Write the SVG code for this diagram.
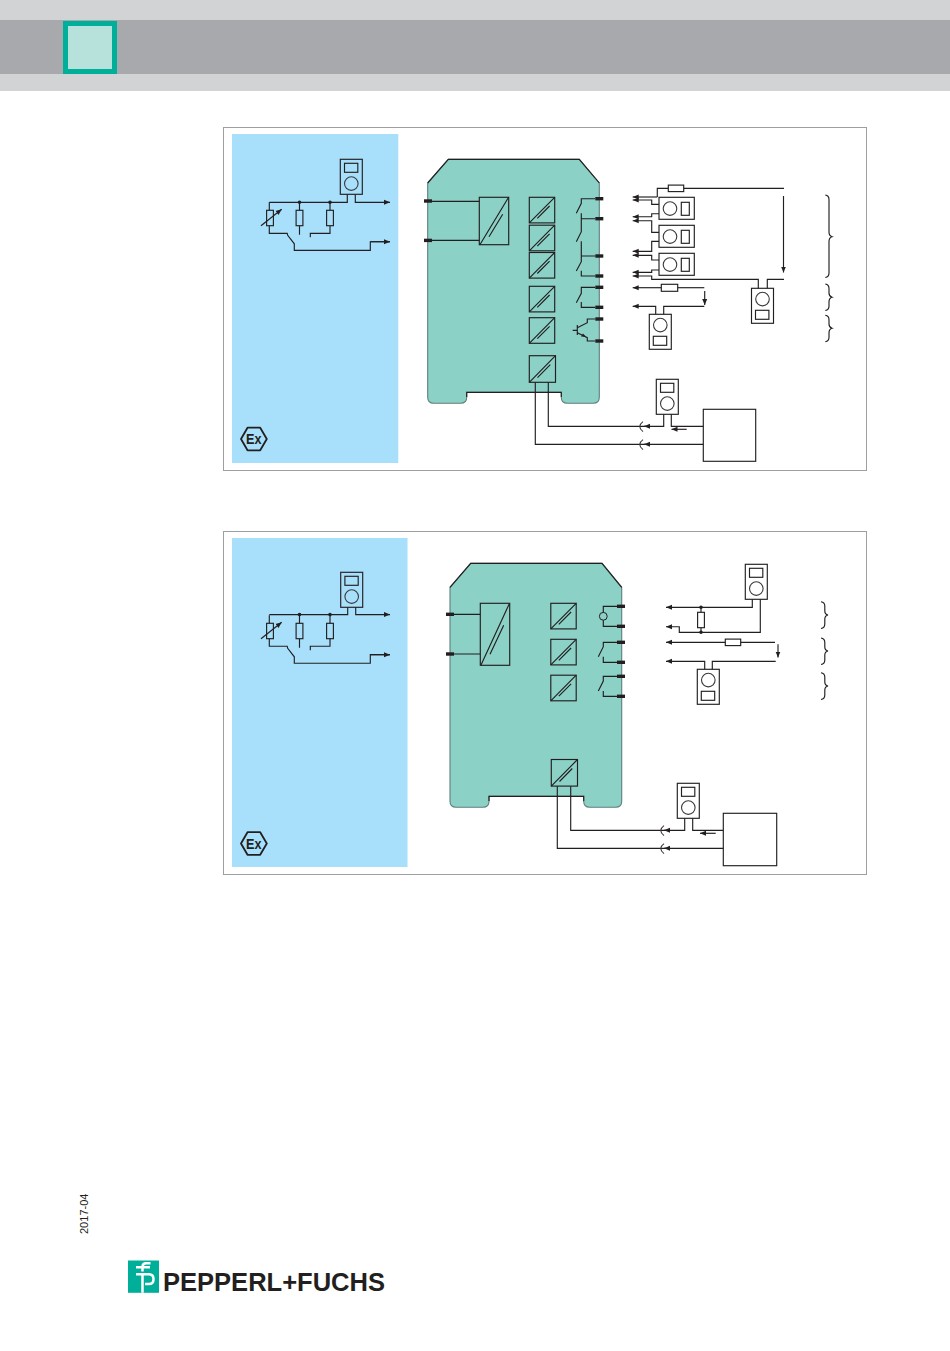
<svg xmlns="http://www.w3.org/2000/svg" xmlns:xlink="http://www.w3.org/1999/xlink" width="950" height="1351" viewBox="0 0 950 1351">
<style>
.c{fill:none;stroke:#3a3a3c;stroke-width:1.1}
.a{fill:none;stroke:#231f20;stroke-width:1.15;marker-end:url(#ah)}
.k{fill:none;stroke:#231f20;stroke-width:1.15}
.body{fill:#8bd1c6;stroke:#5f7f7b;stroke-width:1.1}
.panel{fill:#fff;stroke:#9d9fa2;stroke-width:1}
.blue{fill:#a8e0fb}
.t{fill:#231f20}
.ex{fill:none;stroke:#231f20;stroke-width:1.8;stroke-linejoin:round}
.ext{font-family:"Liberation Sans",Arial,sans-serif;font-weight:700;fill:#231f20;font-size:14px}
</style>
<defs>
<marker id="ah" markerUnits="userSpaceOnUse" markerWidth="7" markerHeight="6" refX="6" refY="3" orient="auto"><path d="M0,0.5 L6,3 L0,5.5 Z" fill="#231f20"/></marker>
<g id="m-v"><rect class="k" x="0" y="0" width="22" height="35"/><rect class="k" x="4.2" y="4" width="13.3" height="9"/><circle class="c" cx="11" cy="24.3" r="6.8"/></g>
<g id="m-f"><rect class="k" x="0" y="0" width="22" height="35"/><rect class="k" x="4" y="22" width="13.4" height="9"/><circle class="c" cx="11" cy="10.8" r="6.8"/></g>
<g id="m-h"><rect class="k" x="0" y="0" width="35.3" height="22"/><rect class="k" x="22.3" y="5" width="8" height="13"/><circle class="c" cx="11" cy="11.3" r="6.8"/></g>
<g id="iso"><rect class="k" x="0" y="0" width="25.4" height="25.6"/><path class="k" d="M0,25.6 L25.4,0 M8,21 L20.3,8.7"/></g>
<g id="iso2"><rect class="k" x="0" y="0" width="26.2" height="26.6"/><path class="k" d="M0,26.6 L26.2,0 M8.2,22 L21,9"/></g>
<g id="exm"><path class="ex" d="M241,0 L247.5,-11.3 L260.2,-11.3 L266.8,0 L260.2,11.3 L247.5,11.3 Z"/><text class="ext" x="246" y="5.2" textLength="15.5" lengthAdjust="spacingAndGlyphs">Ex</text></g>
<g id="sens"><path class="k" d="M269.3,0 L269.3,8 M299.5,0 L299.5,8 M299.5,23.4 L299.5,32.5 M330,0 L330,8 M330,23.4 L330,31 L310.3,31 L310.3,35 M269.3,23.5 L269.3,31 L287.2,31 L287.7,33 L294.3,41.5 L294.3,48 L370.3,48 L370.3,39.4 L390,39.4"/></g>
<g id="r-v"><rect class="k" x="-3.4" y="0" width="6.8" height="15.4"/></g>
<g id="r-h"><rect class="k" x="0" y="0" width="15.4" height="6.5"/></g>
</defs>

<g id="header">
<rect x="0" y="0" width="950" height="91" fill="#d1d3d4"/>
<rect x="0" y="20" width="950" height="54" fill="#a7a9ac"/>
<rect x="63" y="21" width="54" height="53" fill="#00af9a"/>
<rect x="68" y="26" width="44" height="43" fill="#b7e2dc"/>
</g>

<g id="panel-1">
<rect class="panel" x="223.5" y="127.5" width="643" height="343"/>
<rect class="blue" x="232" y="134" width="166.3" height="329"/>
</g>
<g id="panel-2">
<rect class="panel" x="223.5" y="531.5" width="643" height="343"/>
<rect class="blue" x="232" y="538" width="175.5" height="329"/>
</g>

<g id="device-1-body">
<path class="body" d="M448.3,159.3 L579.3,159.3 L599.3,183 L599.3,397.3 Q599.3,403.3 593.3,403.3 L567.3,403.3 Q561.3,403.3 561.3,397.3 L561.3,392.3 L466.7,392.3 L466.7,397.3 Q466.7,403.3 460.7,403.3 L433.7,403.3 Q427.7,403.3 427.7,397.3 L427.7,183 Z"/>
<path class="k" d="M427.7,183 L448.3,159.3 L579.3,159.3 L599.3,183 M466.7,397 L466.7,392.3 L561.3,392.3 L561.3,397"/>
</g>
<g id="device-2-body">
<path class="body" d="M470.7,563.3 L602,563.3 L621.7,587.3 L621.7,801.3 Q621.7,807.3 615.7,807.3 L589.7,807.3 Q583.7,807.3 583.7,801.3 L583.7,796.3 L489,796.3 L489,801.3 Q489,807.3 483,807.3 L456,807.3 Q450,807.3 450,801.3 L450,587.3 Z"/>
<path class="k" d="M450,587.3 L470.7,563.3 L602,563.3 L621.7,587.3 M489,801 L489,796.3 L583.7,796.3 L583.7,801"/>
</g>

<g id="connectors">
<path class="k" d="M269.3,202.3 L347.3,202.3 L347.3,194.3"/>
<path class="a" d="M355.3,194.3 L355.3,202.3 L390,202.3"/>
<use href="#sens" xlink:href="#sens" transform="translate(0,202.3)"/>
<path class="a" d="M370.3,241.7 L390,241.7"/>
<path class="a" d="M261,225.7 L281.7,209.3"/>
<path class="k" d="M269.3,614.6 L347.7,614.6 L347.7,607.3"/>
<path class="a" d="M355.7,607.3 L355.7,614.6 L390,614.6"/>
<use href="#sens" xlink:href="#sens" transform="translate(0,615.3)"/>
<path class="a" d="M370.3,654.7 L390,654.7"/>
<path class="a" d="M261,638.7 L281.7,622.3"/>

<path class="k" d="M432,201.3 L479.3,201.3 M432,240.3 L479.3,240.3"/>
<path class="k" d="M595,198.7 L581.3,198.7 L581.3,203.3 L576.3,213.3 M581.3,213.3 L581.3,231.7 L576.3,241.7 M581.3,218.7 L595,218.7 M581.3,241.3 L581.3,261.7 L576.3,271 M581.3,256 L595,256 M581.3,270.7 L581.3,276 L595,276 M595,287.3 L581.3,287.3 L581.3,293.3 L576.3,302.7 M581.3,302 L581.3,307.3 L595,307.3"/>
<path class="k" d="M572.7,330.3 L577.3,330.3 M577.3,325 L577.3,335 M577.3,327.7 L587.3,322.7 L587.3,319 L595,319 M577.3,332.7 L587.3,337.7 L587.3,341 L595,341"/>
<path d="M581,336.6 L586,336.8 L583,333.6 Z" fill="#231f20"/>
<path class="k" d="M668.3,188.3 L657.3,188.3 L657.3,197"/>
<path class="a" d="M657.3,197 L632.7,197"/>
<path class="a" d="M659,204.3 L651.7,204.3 L651.7,200 L632.7,200"/>
<path class="k" d="M683.7,188.3 L784,188.3"/>
<path class="a" d="M783.5,196 L783.5,272.5"/>
<path class="a" d="M659,213.7 L651.7,213.7 L651.7,216.7 L632.7,216.7"/>
<path class="a" d="M659,232.3 L651.7,232.3 L651.7,220.7 L632.7,220.7"/>
<path class="a" d="M659,241.3 L651.7,241.3 L651.7,251.3 L632.7,251.3"/>
<path class="a" d="M659,260 L651.7,260 L651.7,255.3 L632.7,255.3"/>
<path class="a" d="M659,270 L651.7,270 L651.7,272.3 L632.7,272.3"/>
<path class="a" d="M758.3,288.3 L758.3,279.3 L651.7,279.3 L651.7,276 L632.7,276"/>
<path class="k" d="M767.3,288.3 L767.3,279.3 L784,279.3"/>
<path class="a" d="M661.3,287.7 L632.7,287.7"/>
<path class="k" d="M677.7,287.7 L704.3,287.7"/>
<path class="a" d="M704.7,291 L704.7,305"/>
<path class="a" d="M655.7,314.3 L655.7,306.3 L632.7,306.3"/>
<path class="k" d="M663.7,314.3 L663.7,306.3 L704.3,306.3"/>
<path class="k" d="M548.3,382.3 L548.3,426.3 L646,426.3"/>
<path class="a" d="M663.7,414.3 L663.7,426.3 L644,426.3"/>
<path class="k" d="M671.3,414.3 L671.3,426.3 L703.3,426.3"/>
<path class="a" d="M686.7,429.3 L671.5,429.3"/>
<path class="k" d="M535.3,382.3 L535.3,444.3 L646,444.3"/>
<path class="a" d="M703.3,444.3 L644,444.3"/>
<path class="c" d="M643,421.6 Q636.5,426.4 643,431.6 M643,439.6 Q636.5,444.4 643,449.6"/>

<path class="k" d="M454,614.3 L480.3,614.3 M454,654 L480.3,654"/>
<path class="k" d="M617,606.3 L603.3,606.3 L603.3,626.3 L617,626.3"/>
<path class="k" d="M617,642.3 L603.3,642.3 L603.3,646.7 L598.3,656.7 M603.3,656.7 L603.3,662.3 L617,662.3 M617,676.3 L603.3,676.3 L603.3,681 L598.3,691 M603.3,691 L603.3,696.3 L617,696.3"/>
<path class="a" d="M752.3,599.3 L752.3,607.3 L666,607.3"/>
<path class="a" d="M760.3,599.3 L760.3,632.3 L679.3,632.3 L679.3,626.7 L666,626.7"/>
<path class="k" d="M701,607.3 L701,612.3 M701,627.7 L701,632.3"/>
<path class="a" d="M725.3,642.3 L666,642.3"/>
<path class="k" d="M740.7,642.3 L775,642.3"/>
<path class="a" d="M778,644.3 L778,657.5"/>
<path class="a" d="M704.7,669.3 L704.7,661.3 L666,661.3"/>
<path class="k" d="M712.3,669.3 L712.3,661.3 L775.7,661.3"/>
<path class="k" d="M570.7,786.3 L570.7,830.3 L666,830.3"/>
<path class="a" d="M684.7,818.3 L684.7,830.3 L664,830.3"/>
<path class="k" d="M692.7,818.3 L692.7,830.3 L723.3,830.3"/>
<path class="a" d="M715.7,833.3 L700,833.3"/>
<path class="k" d="M557.3,786.3 L557.3,848.3 L666,848.3"/>
<path class="a" d="M723.3,848.3 L664,848.3"/>
<path class="c" d="M664,825.6 Q657.5,830.4 664,835.6 M664,843.6 Q657.5,848.4 664,853.6"/>
</g>

<g id="sensor-1">
<use href="#m-v" xlink:href="#m-v" transform="translate(340.3,159.3)"/>
<use href="#r-v" xlink:href="#r-v" transform="translate(270,210.3)"/>
<use href="#r-v" xlink:href="#r-v" transform="translate(299.5,210.3)"/>
<use href="#r-v" xlink:href="#r-v" transform="translate(330,210.3)"/>
<circle class="t" cx="299.5" cy="202.3" r="1.8"/><circle class="t" cx="330" cy="202.3" r="1.8"/>
</g>
<g id="sensor-2">
<use href="#m-v" xlink:href="#m-v" transform="translate(340.7,572.3)"/>
<use href="#r-v" xlink:href="#r-v" transform="translate(270,623.3)"/>
<use href="#r-v" xlink:href="#r-v" transform="translate(299.5,623.3)"/>
<use href="#r-v" xlink:href="#r-v" transform="translate(330,623.3)"/>
<circle class="t" cx="299.5" cy="614.6" r="1.8"/><circle class="t" cx="330" cy="614.6" r="1.8"/>
</g>
<g id="ex-1"><use href="#exm" xlink:href="#exm" transform="translate(0,439)"/></g>
<g id="ex-2"><use href="#exm" xlink:href="#exm" transform="translate(0,843.5)"/></g>

<g id="device-1">
<rect class="k" x="479.3" y="197.3" width="29.4" height="47.4"/>
<path class="k" d="M479.9,244.7 L508.3,197.8 M489,236.7 L502.7,214.3"/>
<use href="#iso" xlink:href="#iso" transform="translate(529.3,197.3)"/>
<use href="#iso" xlink:href="#iso" transform="translate(529.3,225.2)"/>
<use href="#iso" xlink:href="#iso" transform="translate(529.3,252.5)"/>
<use href="#iso" xlink:href="#iso" transform="translate(529.3,286.3)"/>
<use href="#iso" xlink:href="#iso" transform="translate(529.3,317.7)"/>
<use href="#iso2" xlink:href="#iso2" transform="translate(529.3,355.7)"/>
<g class="t">
<rect x="424" y="199.3" width="8" height="3.4"/><rect x="424" y="238.7" width="8" height="3.4"/>
<rect x="595.3" y="197" width="8" height="3.4"/><rect x="595.3" y="217" width="8" height="3.4"/>
<rect x="595.3" y="254.3" width="8" height="3.4"/><rect x="595.3" y="274.3" width="8" height="3.4"/>
<rect x="595.3" y="285.6" width="8" height="3.4"/><rect x="595.3" y="305.6" width="8" height="3.4"/>
<rect x="595.3" y="317.3" width="8" height="3.4"/><rect x="595.3" y="339.3" width="8" height="3.4"/>
</g>
</g>
<g id="field-1">
<use href="#m-h" xlink:href="#m-h" transform="translate(659,197.3)"/>
<use href="#m-h" xlink:href="#m-h" transform="translate(659,225.3)"/>
<use href="#m-h" xlink:href="#m-h" transform="translate(659,253.3)"/>
<use href="#m-f" xlink:href="#m-f" transform="translate(751.5,288.3)"/>
<use href="#m-f" xlink:href="#m-f" transform="translate(649.3,314.3)"/>
<use href="#m-v" xlink:href="#m-v" transform="translate(656.3,379.3)"/>
<use href="#r-h" xlink:href="#r-h" transform="translate(668.3,185.1)"/>
<rect class="k" x="661.3" y="284.3" width="16.4" height="7"/>
<rect class="k" x="703.3" y="409.3" width="52.4" height="52"/>
<path class="k" d="M825.3,195 Q829,195.5 829,199.5 L829,232 Q829,235.8 832,236.7 Q829,237.6 829,241.5 L829,273 Q829,277 825.3,277.5"/>
<path class="k" d="M825.3,284 Q829,284.5 829,288.5 L829,293 Q829,296.4 832,297.3 Q829,298.2 829,302 L829,306 Q829,310 825.3,310.5"/>
<path class="k" d="M825.3,315.3 Q829,315.8 829,319.8 L829,324 Q829,327.4 832,328.3 Q829,329.2 829,333 L829,337.3 Q829,341.3 825.3,341.8"/>
</g>

<g id="device-2">
<rect class="k" x="480.3" y="603.3" width="29.4" height="62"/>
<path class="k" d="M480.9,665.3 L509.3,603.8 M490,654.3 L503.7,625.3"/>
<use href="#iso" xlink:href="#iso" transform="translate(550.8,603.3)"/>
<use href="#iso" xlink:href="#iso" transform="translate(550.8,639.3)"/>
<use href="#iso" xlink:href="#iso" transform="translate(550.8,675.2)"/>
<use href="#iso2" xlink:href="#iso2" transform="translate(551.3,759.5)"/>
<circle cx="603.3" cy="616.3" r="3.9" fill="#8bd1c6" stroke="#231f20"/>
<g class="t">
<rect x="446" y="612.6" width="8" height="3.4"/><rect x="446" y="652.3" width="8" height="3.4"/>
<rect x="617" y="604.6" width="8" height="3.4"/><rect x="617" y="624.6" width="8" height="3.4"/>
<rect x="617" y="640.6" width="8" height="3.4"/><rect x="617" y="660.6" width="8" height="3.4"/>
<rect x="617" y="674.6" width="8" height="3.4"/><rect x="617" y="694.6" width="8" height="3.4"/>
</g>
</g>
<g id="field-2">
<use href="#m-v" xlink:href="#m-v" transform="translate(745.3,564.3)"/>
<use href="#m-f" xlink:href="#m-f" transform="translate(697.3,669.3)"/>
<use href="#m-v" xlink:href="#m-v" transform="translate(677.3,783.3)"/>
<use href="#r-v" xlink:href="#r-v" transform="translate(701,612.3)"/>
<use href="#r-h" xlink:href="#r-h" transform="translate(725.3,639.1)"/>
<circle class="t" cx="701" cy="607.3" r="1.8"/><circle class="t" cx="701" cy="632.3" r="1.8"/>
<rect class="k" x="723.3" y="813.3" width="53.4" height="52.4"/>
<path class="k" d="M821,601.7 Q824.8,602.2 824.8,606.2 L824.8,611 Q824.8,614.2 828,615 Q824.8,615.8 824.8,619 L824.8,624 Q824.8,628 821,628.5"/>
<path class="k" d="M821,638 Q824.8,638.5 824.8,642.5 L824.8,647 Q824.8,650.2 828,651 Q824.8,651.8 824.8,655 L824.8,660 Q824.8,664 821,664.5"/>
<path class="k" d="M821,672.7 Q824.8,673.2 824.8,677.2 L824.8,682 Q824.8,685.2 828,686 Q824.8,686.8 824.8,690 L824.8,695 Q824.8,699 821,699.5"/>
</g>

<g id="footer">
<text transform="translate(88,1234) rotate(-90)" font-family="'Liberation Sans',Arial,sans-serif" font-size="11" fill="#231f20" textLength="40.5">2017-04</text>
<rect x="128" y="1260.5" width="31" height="32.3" fill="#00af9a"/>
<path d="M136,1267.3 L150,1267.3 M142.5,1271.5 L142.5,1267 Q142.5,1263.2 146,1263.2 L150.5,1263.2 M136,1274.3 L149,1274.3 Q153.5,1274.3 153.5,1279.2 Q153.5,1284 149,1284 L145,1284 M142.5,1274.3 L142.5,1292.8" fill="none" stroke="#fff" stroke-width="2.5"/>
<text x="163" y="1291" font-family="'Liberation Sans',Arial,sans-serif" font-weight="700" font-size="25" fill="#231f20" textLength="222" lengthAdjust="spacingAndGlyphs">PEPPERL+FUCHS</text>
</g>
</svg>
